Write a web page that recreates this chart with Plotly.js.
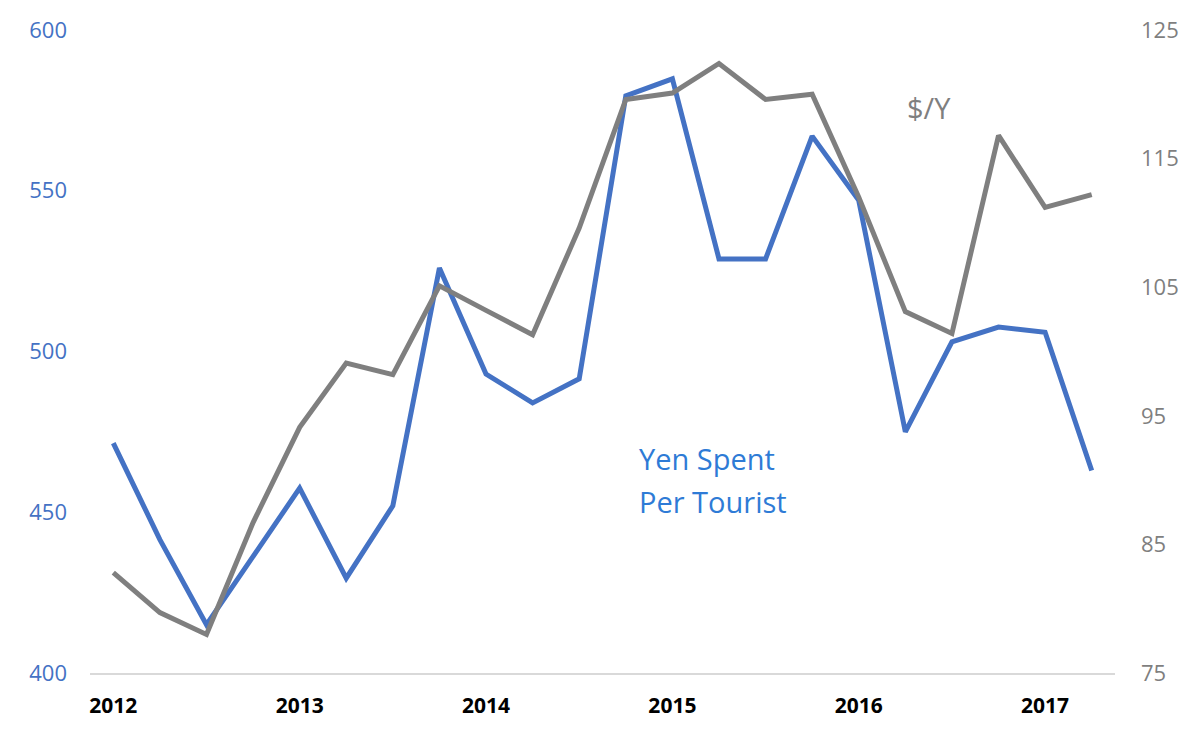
<!DOCTYPE html>
<html>
<head>
<meta charset="utf-8">
<script src="https://cdn.plot.ly/plotly-3.0.1.min.js"></script>
<style>html,body{margin:0;padding:0;background:#fff}#chart{width:1200px;height:733px}</style>
</head>
<body>
<div id="chart"></div>
<script>
// Quarterly periods 2012Q1 .. 2017Q2
var periods = ["2012Q1","2012Q2","2012Q3","2012Q4","2013Q1","2013Q2","2013Q3","2013Q4",
  "2014Q1","2014Q2","2014Q3","2014Q4","2015Q1","2015Q2","2015Q3","2015Q4",
  "2016Q1","2016Q2","2016Q3","2016Q4","2017Q1","2017Q2"];
// Yen spent per tourist (left axis)
var yenSpent = [471.5, 441.5, 415, 436, 457.5, 429.5, 452, 526,
  493, 484, 491.5, 579.5, 584.8, 528.8, 528.8, 567,
  547, 475, 503, 507.6, 506, 463];
// $/Y exchange rate (right axis)
var usdJpy = [82.8, 79.7, 78.0, 86.7, 94.1, 99.1, 98.2, 105.1,
  103.2, 101.3, 109.6, 119.6, 120.1, 122.4, 119.6, 120.0,
  112.0, 103.1, 101.4, 116.8, 111.2, 112.2];
var yearTickPeriods = ["2012Q1","2013Q1","2014Q1","2015Q1","2016Q1","2017Q1"];
var yearTickLabels = ["2012","2013","2014","2015","2016","2017"];
var leftTicks = [400, 450, 500, 550, 600];
var rightTicks = [75, 85, 95, 105, 115, 125];

var idx = periods.map(function(p, i){ return i; });
var tickIdx = yearTickPeriods.map(function(p){ return periods.indexOf(p); });

var traces = [
  {x: idx, y: usdJpy, type: 'scatter', mode: 'lines', yaxis: 'y2',
   line: {color: '#7f7f7f', width: 5}, name: '$/Y', hoverinfo: 'y'},
  {x: idx, y: yenSpent, type: 'scatter', mode: 'lines', yaxis: 'y',
   line: {color: '#4472c4', width: 5}, name: 'Yen Spent Per Tourist', hoverinfo: 'y'}
];

var layout = {
  width: 1200, height: 733,
  margin: {l: 90, r: 85, t: 30, b: 60},
  paper_bgcolor: '#ffffff', plot_bgcolor: '#ffffff',
  showlegend: false,
  font: {family: 'Open Sans, Noto Sans, sans-serif'},
  xaxis: {
    range: [-0.5, periods.length - 0.5],
    tickvals: tickIdx, ticktext: yearTickLabels,
    showgrid: false, zeroline: false,
    showline: true, linecolor: '#d9d9d9', linewidth: 2,
    ticks: '', ticklabelstandoff: 13,
    tickfont: {family: 'Open Sans, sans-serif', size: 21, color: '#000000', weight: 'bold'}
  },
  yaxis: {
    range: [400, 600], tickvals: leftTicks,
    showgrid: false, zeroline: false, showline: false, ticks: '',
    ticklabelstandoff: 22,
    tickfont: {family: 'Open Sans, sans-serif', size: 22, color: '#4472c4'}
  },
  yaxis2: {
    range: [75, 125], tickvals: rightTicks, overlaying: 'y', side: 'right',
    showgrid: false, zeroline: false, showline: false, ticks: '',
    ticklabelstandoff: 25,
    tickfont: {family: 'Open Sans, sans-serif', size: 22, color: '#7f7f7f'}
  },
  annotations: [
    {text: 'Yen Spent', xref: 'paper', yref: 'paper',
     x: 0.534, y: 0.367, xanchor: 'left', yanchor: 'top', align: 'left',
     showarrow: false, font: {family: 'Open Sans, sans-serif', size: 29, color: '#2e7bd6'}},
    {text: 'Per Tourist', xref: 'paper', yref: 'paper',
     x: 0.534, y: 0.300, xanchor: 'left', yanchor: 'top', align: 'left',
     showarrow: false, font: {family: 'Open Sans, sans-serif', size: 29, color: '#2e7bd6'}},
    {text: '$/Y', xref: 'paper', yref: 'paper',
     x: 0.795, y: 0.913, xanchor: 'left', yanchor: 'top', align: 'left',
     showarrow: false, font: {family: 'Open Sans, sans-serif', size: 29, color: '#7f7f7f'}}
  ]
};

Plotly.newPlot('chart', traces, layout, {displayModeBar: false, staticPlot: true});
</script>
</body>
</html>
